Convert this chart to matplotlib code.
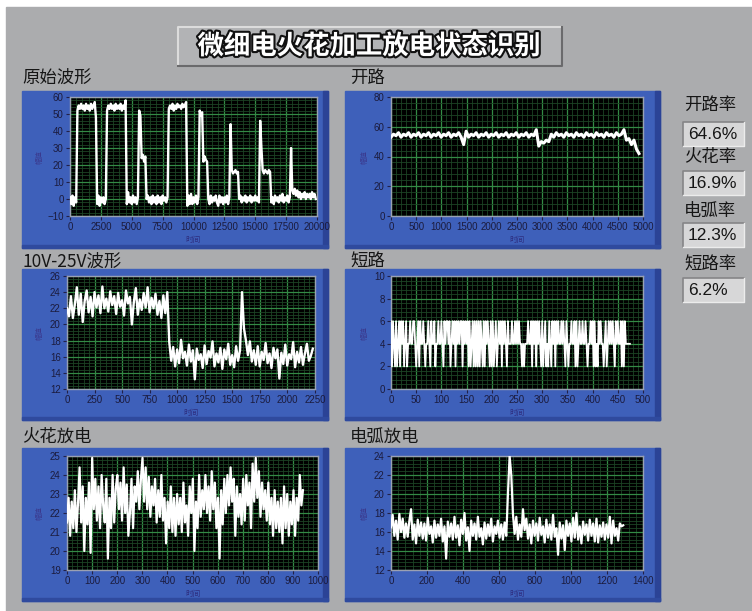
import numpy as np
import matplotlib
matplotlib.use('Agg')
import matplotlib.pyplot as plt
from matplotlib.patches import Rectangle
from matplotlib.ticker import AutoMinorLocator
import matplotlib.patheffects as pe

plt.rcParams['font.family'] = ['Noto Sans CJK SC', 'DejaVu Sans']

W, H = 752, 611

# ---- data ----
title = '微细电火花加工放电状态识别'

# raw waveform, sampled every 100 time units
raw_v = [1, -3, 2, -4, 1, -2, 52, 55, 53, 56,
         53, 55, 52, 56, 53, 55, 52, 56, 53, 55,
         57, 48, -3, 2, -4, 1, -2, 1, -3, 0,
         52, 55, 53, 56, 53, 55, 52, 56, 53, 55,
         53, 56, 52, 55, 53, 58, -3, 4, -2, 1,
         -3, 2, -2, 1, -3, 1, 52, 49, 24, 26,
         22, 25, 0, 2, -2, 1, -3, 2, -2, 1,
         -3, 2, -2, 1, -3, 2, -1, 1, -2, 1,
         53, 55, 53, 56, 52, 55, 53, 56, 54, 55,
         53, 56, 54, 55, 57, -4, 2, -3, 3, -3,
         1, -2, 2, -3, 1, 52, 49, 51, 22, 25,
         23, 22, 0, -3, 2, -2, 1, -1, 2, -2,
         -4, 2, -2, 1, -3, 1, -2, 2, -3, 1,
         44, 17, 15, 16, 17, 15, 16, 0, 2, -2,
         1, -1, 2, -2, 1, -1, 2, -2, 1, -1,
         2, -1, 1, -2, 46, 30, 17, 15, 17, 16,
         15, 17, 16, -2, 1, -3, 2, -1, 1, -2,
         2, -1, 3, -2, 1, -1, 2, -2, 1, 30,
         5, 3, 6, 2, 5, 1, 4, 0, 3, 1,
         4, 0, 3, 1, 3, 0, 4, 1, 3, 0]
raw_t = np.arange(len(raw_v)) * 100

# open-circuit segment
open_v = [53, 55, 54, 56, 53, 55, 54, 56, 53, 55,
          54, 56, 53, 55, 54, 56, 53, 55, 54, 56,
          53, 55, 54, 56, 53, 55, 54, 56, 53, 48,
          57, 53, 55, 54, 56, 53, 55, 54, 56, 53,
          55, 54, 56, 53, 55, 54, 56, 53, 55, 54,
          56, 53, 55, 54, 56, 53, 55, 54, 58, 47,
          50, 49, 51, 50, 55, 53, 56, 54, 55, 53,
          56, 54, 55, 53, 56, 54, 55, 53, 56, 54,
          55, 53, 56, 54, 55, 53, 56, 54, 55, 53,
          56, 54, 55, 58, 51, 52, 48, 51, 45, 42]
open_t = np.linspace(0, 4920, len(open_v))

# 10V-25V band
band_v = [22, 21, 23.5, 20.8, 22.5, 24.6, 21.2, 23.8, 20.3, 22.9,
          24.2, 21.5, 23.4, 21.0, 24.0, 22.1, 23.6, 21.4, 24.7, 22.0,
          23.2, 21.6, 24.1, 22.4, 23.5, 21.3, 23.9, 22.2, 23.0, 21.1,
          24.2, 22.6, 23.4, 20.0, 22.8, 24.5, 21.2, 23.1, 21.8, 23.9,
          22.1, 24.6, 21.5, 23.3, 22.0, 23.8, 21.2, 22.9, 20.8, 23.6,
          21.4, 24.0,
          17.8, 15.5, 17.2, 14.8, 16.9, 15.2, 18.1, 15.8, 16.6, 14.9,
          17.5, 15.4, 16.8, 13.2, 17.0, 15.6, 16.3, 14.6, 17.4, 15.1,
          16.7, 15.9, 17.9, 14.8, 16.4, 15.3, 17.1, 14.5, 16.9, 15.7,
          17.6, 15.0, 16.2, 14.7, 17.3, 15.5, 16.8,
          24.0, 19.5, 18.0,
          16.2, 17.9, 15.4, 16.8, 15.0, 17.3, 14.8, 16.6, 15.6, 17.7,
          15.2, 16.4, 14.6, 17.1, 15.8, 16.9, 13.3, 16.5, 15.1, 17.5,
          14.9, 16.3, 15.7, 17.8, 14.7, 16.6, 15.3, 17.2, 15.0, 16.4,
          17.6, 15.5, 16.1, 17.0]
band_t = np.linspace(0, 2230, len(band_v))

# short-circuit levels, every 2 time units
short_v = [6, 2, 6, 4, 2, 6, 2, 4, 6, 2, 6, 4, 6, 2, 4, 6, 2, 4, 4, 6, 4, 4, 6, 6, 4,
           2, 4, 6, 2, 6, 4, 4, 6, 4, 2, 4, 4, 6, 4, 2, 6, 4, 4, 6, 2, 4, 4, 6, 4, 4,
           6, 4, 2, 6, 4, 6, 6, 4, 6, 2, 4, 6, 4, 6, 2, 6, 4, 6, 4, 6, 6, 2, 6, 4, 6,
           4, 6, 2, 6, 2, 4, 6, 2, 6, 2, 6, 2, 6, 2, 6, 4, 2, 6, 2, 6, 4, 6, 4, 2, 6,
           2, 6, 2, 4, 6, 2, 4, 6, 4, 6, 2, 6, 4, 6, 4, 2, 6, 4, 4, 4, 6, 4, 4, 6, 4,
           6, 4, 6, 4, 4, 2, 4, 2, 4, 4, 4, 6, 4, 4, 6, 2, 6, 4, 6, 2, 6, 4, 6, 4, 2,
           6, 2, 4, 6, 2, 4, 2, 6, 4, 2, 6, 4, 6, 2, 6, 4, 6, 4, 4, 6, 4, 6, 4, 2, 6,
           4, 2, 4, 4, 6, 4, 4, 6, 2, 6, 2, 4, 6, 4, 4, 6, 4, 4, 6, 4, 2, 4, 4, 6, 4,
           6, 2, 6, 2, 4, 2, 6, 4, 6, 4, 4, 2, 4, 6, 2, 4, 6, 4, 6, 4, 6, 4, 2, 6, 4,
           6, 4, 4, 6, 2, 6, 2, 6, 4, 4, 4, 4, 4]
short_t = np.arange(len(short_v)) * 2

# spark discharge
spark_v = [21.5, 22.8, 20.8, 22.6, 21.2, 23.2, 21.0, 22.5,
           24.4, 21.5, 23.4, 20.0, 22.8, 21.4, 23.6, 19.9,
           24.9, 22.2, 23.8, 21.6, 23.4, 21.2, 24.0, 22.4,
           21.5, 23.8, 19.6, 22.8, 21.2, 24.0, 21.5, 23.3,
           24.0, 22.2, 23.6, 21.6, 24.4, 22.0, 23.5, 20.8,
           22.0, 23.8, 21.2, 23.4, 22.6, 24.2, 22.2, 23.8,
           24.9, 22.6, 24.4, 22.2, 23.9, 21.8, 23.4, 22.4,
           23.8, 21.5, 23.2, 21.8, 24.0, 21.6, 22.8, 20.4,
           22.6, 21.2, 23.4, 21.0, 22.8, 20.8, 23.0, 21.4,
           22.8, 21.0, 23.6, 21.5, 22.4, 20.8, 23.4, 22.0,
           23.8, 20.0, 22.6, 21.2, 24.0, 21.8, 23.2, 22.2,
           24.0, 22.0, 23.4, 21.6, 24.2, 22.2, 23.6, 21.2,
           22.8, 19.6, 23.2, 21.4, 23.8, 22.0, 24.0, 22.4,
           24.4, 22.6, 23.8, 20.8, 23.4, 21.8, 23.0, 21.4,
           23.8, 21.6, 24.0, 22.4, 23.6, 21.2, 24.6, 22.6,
           24.9, 22.8, 24.2, 21.8, 23.6, 22.2, 23.2, 21.6,
           23.6, 21.4, 22.8, 20.8, 23.2, 21.2, 22.6, 21.0,
           22.8, 20.4, 23.4, 21.2, 23.0, 20.8, 22.6, 21.4,
           23.2, 20.8, 22.8, 21.6, 24.0, 22.4, 23.2]
spark_t = np.linspace(0, 940, len(spark_v))

# arc discharge
arc_v = [16.5, 17.8, 15.6, 17.2, 15.2, 17.9, 16.0, 17.4, 15.4, 16.9,
         15.5, 17.2, 18.4, 15.2, 16.8, 14.8, 17.3, 15.6, 17.0, 15.3,
         16.9, 15.1, 17.5, 15.8, 16.6, 14.9, 17.2, 15.4, 16.8, 15.6,
         17.4, 15.0, 16.6, 13.2, 17.1, 15.5, 16.9, 15.2, 17.6, 15.4,
         16.7, 14.6, 17.3, 15.8, 18.0, 15.1, 16.5, 14.0, 17.2, 15.6,
         16.9, 15.2, 17.6, 15.5, 16.4, 14.7, 17.0, 15.3, 16.8, 15.6,
         17.4, 15.0, 16.6, 15.8, 17.2, 15.4, 16.8, 15.2, 17.0, 15.6,
         20.0, 24.0, 22.0, 17.9, 15.8, 17.6, 15.2, 16.8, 15.5, 18.4,
         16.2, 17.4, 15.3, 16.8, 14.8, 17.2, 15.6, 16.9, 15.1, 17.5,
         15.7, 16.6, 14.9, 17.3, 15.4, 16.8, 15.2, 17.8, 15.5, 16.4,
         13.6, 17.0, 15.3, 16.7, 14.1, 17.2, 15.6, 16.9, 15.0, 17.5,
         15.4, 18.0, 15.2, 16.6, 14.8, 17.1, 15.7, 16.8, 15.1, 17.3,
         15.6, 16.9, 15.0, 17.4, 14.9, 16.7, 15.5, 17.0, 15.2, 16.8,
         15.4, 17.6, 14.8, 17.2, 15.6, 16.4, 15.1, 16.9, 16.6, 16.7]
arc_t = np.linspace(0, 1290, len(arc_v))

rate_names = ['开路率', '火花率', '电弧率', '短路率']
rate_values = ['64.6%', '16.9%', '12.3%', '6.2%']

# ---- figure ----
fig = plt.figure(figsize=(W / 100, H / 100), dpi=100, facecolor='white')
bg = fig.add_axes([0, 0, 1, 1])
bg.set_xlim(0, W)
bg.set_ylim(H, 0)
bg.axis('off')

panel_gray = '#abacae'
bg.add_patch(Rectangle((6, 7), W - 6, H - 7, color=panel_gray))

# title box with bevel
bg.add_patch(Rectangle((178, 27), 384, 39, facecolor='#b2b3b5', edgecolor='none'))
bg.plot([178, 178, 562], [66, 27, 27], color='#dcdcdc', lw=1.5)
bg.plot([178, 562, 562], [66, 66, 27], color='#6a6a6c', lw=1.5)
bg.text(369, 46.5, title, ha='center', va='center', fontsize=19, weight='bold',
        color='white',
        path_effects=[pe.withStroke(linewidth=3, foreground='#111111')])


def frame(x0, y0, x1, y1):
    bg.add_patch(Rectangle((x0, y0), x1 - x0, y1 - y0, color='#3e60ba'))
    bg.add_patch(Rectangle((x1 - 5, y0), 5, y1 - y0, color='#2b4396'))
    bg.add_patch(Rectangle((x0, y1 - 3), x1 - x0, 3, color='#2f4a9e'))


def chart(box, t, v, xlim, xstep, ylim, ystep, ylab_x, lw=1.5):
    x0, y0, x1, y1 = box
    ax = fig.add_axes([x0 / W, 1 - y1 / H, (x1 - x0) / W, (y1 - y0) / H])
    ax.set_facecolor('black')
    ax.plot(t, v, color='white', lw=lw, zorder=3)
    ax.set_xlim(*xlim)
    ax.set_ylim(*ylim)
    ax.set_xticks(np.arange(xlim[0], xlim[1] + xstep / 2, xstep))
    ax.set_yticks(np.arange(ylim[0], ylim[1] + ystep / 2, ystep))
    ax.xaxis.set_minor_locator(AutoMinorLocator(5))
    ax.yaxis.set_minor_locator(AutoMinorLocator(5))
    ax.grid(which='minor', color='#1c4424', lw=0.6)
    ax.grid(which='major', color='#338a45', lw=0.9)
    ax.set_axisbelow(True)
    ax.tick_params(which='minor', length=0)
    ax.tick_params(which='major', direction='out', length=3, width=0.8,
                   color='#20204a', labelcolor='#1b1b3d', labelsize=7, pad=1.5)
    for lbl in ax.get_xticklabels() + ax.get_yticklabels():
        lbl.set_family('Liberation Sans')
    for s in ax.spines.values():
        s.set_color('#9aa0b2')
        s.set_linewidth(1)
    cx = (x0 + x1) / 2
    bg.text(cx, y1 + 24, '时间', ha='center', va='center', fontsize=5.5, color='#2e2e80')
    bg.text(ylab_x, (y0 + y1) / 2, '幅值', ha='center', va='center', fontsize=5,
            rotation=90, color='#3a3a8f')
    return ax


frame(22, 91, 328, 248)
frame(345, 91, 660, 248)
frame(22, 269, 328, 420)
frame(345, 269, 660, 420)
frame(22, 448, 328, 601)
frame(345, 448, 660, 601)

chart((70, 97, 317, 216), raw_t, raw_v, (0, 20000), 2500, (-10, 60), 10, 40, lw=1.7)
chart((391, 97, 643, 216), open_t, open_v, (0, 5000), 500, (0, 80), 20, 365, lw=2.2)
chart((67, 276, 315, 389), band_t, band_v, (0, 2250), 250, (12, 26), 2, 40, lw=1.7)
chart((391, 276, 643, 389), short_t, short_v, (0, 500), 50, (0, 10), 2, 365, lw=1.3)
chart((67, 456, 318, 570), spark_t, spark_v, (0, 1000), 100, (19, 25), 1, 40, lw=1.6)
chart((391, 456, 643, 570), arc_t, arc_v, (0, 1400), 200, (12, 24), 2, 365, lw=1.6)

# section captions
caps = [(22, 78, '原始波形'), (350, 78, '开路'), (22, 262, '10V-25V波形'),
        (350, 262, '短路'), (22, 437, '火花放电'), (350, 437, '电弧放电')]
for x, y, s in caps:
    bg.text(x, y, s, ha='left', va='center', fontsize=12.5, color='#161616')

# rate indicators
label_y = [105, 157, 211, 265]
box_y = [122, 171, 223, 278]
for name, val, ly, by in zip(rate_names, rate_values, label_y, box_y):
    bg.text(684, ly, name, ha='left', va='center', fontsize=12.5, color='#161616')
    bg.add_patch(Rectangle((683, by), 61, 24, facecolor='#d7d7d8', edgecolor='none'))
    bg.plot([683, 683, 744], [by + 24, by, by], color='#858587', lw=1.2)
    bg.plot([683, 744, 744], [by + 24, by + 24, by], color='#ececec', lw=1)
    bg.text(688, by + 12.5, val, ha='left', va='center', fontsize=12.5,
            color='#161616', family='Liberation Sans')

fig.savefig('out.png', dpi=100, facecolor='white')
